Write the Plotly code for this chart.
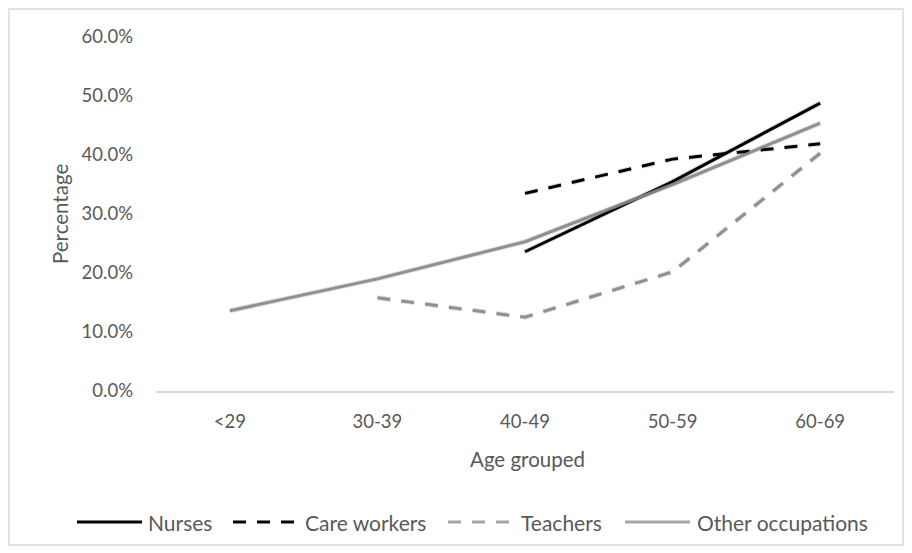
import plotly.graph_objects as go

# Share of workers by age group
age_groups = ["<29", "30-39", "40-49", "50-59", "60-69"]

nurses = [None, None, 0.236, 0.355, 0.488]
care_workers = [None, None, 0.335, 0.393, 0.419]
teachers = [None, 0.158, 0.125, 0.202, 0.403]
other_occupations = [0.136, 0.190, 0.253, 0.350, 0.454]

y_ticks = [0.0, 0.1, 0.2, 0.3, 0.4, 0.5, 0.6]

FONT = "Lato, sans-serif"
TEXT = "#595959"
DASH = "13px,11px"

series = [
    ("Nurses", nurses, "#000000", "solid"),
    ("Care workers", care_workers, "#000000", DASH),
    ("Teachers", teachers, "#a6a6a6", DASH),
    ("Other occupations", other_occupations, "#a6a6a6", "solid"),
]

# legend layout in pixels: (symbol start, symbol end, text start)
legend_slots = [(77, 142, 148), (233, 297, 305), (448, 513, 521), (625, 690, 697)]
LEGEND_Y = 522

fig = go.Figure()

# soft drop shadow under each line (drawn on slightly shifted axes)
for name, vals, color, dash in series:
    fig.add_trace(go.Scatter(
        x=age_groups, y=vals, mode="lines", name=name + " shadow",
        line=dict(color="rgba(0,0,0,0.13)", width=5, dash=dash),
        xaxis="x2", yaxis="y2", showlegend=False, hoverinfo="skip",
        connectgaps=False,
    ))

for name, vals, color, dash in series:
    fig.add_trace(go.Scatter(
        x=age_groups, y=vals, mode="lines", name=name,
        line=dict(color=color, width=3, dash=dash),
        connectgaps=False, showlegend=False,
    ))

W, H = 912, 553
L, R, T, B = 156, 16, 37, 160
pw, ph = W - L - R, H - T - B
dx, dy = 2 / pw, 2 / ph


def px_x(v):
    return (v - L) / pw


def px_y(v):
    return (H - B - v) / ph


annotations = [
    dict(text="Percentage", xref="paper", yref="paper",
         x=px_x(60), y=px_y(214), textangle=-90,
         showarrow=False, xanchor="center", yanchor="middle",
         font=dict(family=FONT, size=20.5, color=TEXT)),
    dict(text="Age grouped", xref="paper", yref="paper",
         x=px_x(527), y=px_y(459),
         showarrow=False, xanchor="center", yanchor="middle",
         font=dict(family=FONT, size=20.5, color=TEXT)),
]
shapes = [
    dict(type="rect", xref="paper", yref="paper",
         x0=px_x(9), x1=px_x(903), y0=px_y(545), y1=px_y(9),
         line=dict(color="#d9d9d9", width=1.5), fillcolor="rgba(0,0,0,0)",
         layer="below"),
]

# legend: line samples with their labels
for (name, vals, color, dash), (s0, s1, t0) in zip(series, legend_slots):
    shapes.append(dict(
        type="line", xref="paper", yref="paper",
        x0=px_x(s0), x1=px_x(s1), y0=px_y(LEGEND_Y), y1=px_y(LEGEND_Y),
        line=dict(color=color, width=3, dash=dash),
    ))
    annotations.append(dict(
        text=name, xref="paper", yref="paper",
        x=px_x(t0), y=px_y(LEGEND_Y), showarrow=False,
        xanchor="left", yanchor="middle", xshift=-2,
        font=dict(family=FONT, size=21, color=TEXT),
    ))

fig.update_layout(
    width=W, height=H,
    margin=dict(l=L, r=R, t=T, b=B),
    paper_bgcolor="white", plot_bgcolor="white",
    font=dict(family=FONT, size=18, color=TEXT),
    showlegend=False,
    xaxis=dict(
        type="category", categoryorder="array", categoryarray=age_groups,
        range=[-0.5, 4.5], showgrid=False, zeroline=False,
        showline=True, linecolor="#d9d9d9", linewidth=1.5,
        ticks="", ticklabelstandoff=13,
        tickfont=dict(family=FONT, size=18.5, color=TEXT),
        domain=[0, 1 - dx], anchor="y",
    ),
    yaxis=dict(
        range=[0, 0.6], tickvals=y_ticks, tickformat=".1%",
        showgrid=False, zeroline=False, showline=False, ticks="",
        ticklabelstandoff=22,
        tickfont=dict(family=FONT, size=18.5, color=TEXT),
        domain=[dy, 1], anchor="x",
    ),
    xaxis2=dict(
        type="category", categoryorder="array", categoryarray=age_groups,
        range=[-0.5, 4.5], overlaying="x", visible=False,
        domain=[dx, 1], anchor="y2",
    ),
    yaxis2=dict(
        range=[0, 0.6], overlaying="y", visible=False,
        domain=[0, 1 - dy], anchor="x2",
    ),
    annotations=annotations,
    shapes=shapes,
)

fig.write_html("out.html")
